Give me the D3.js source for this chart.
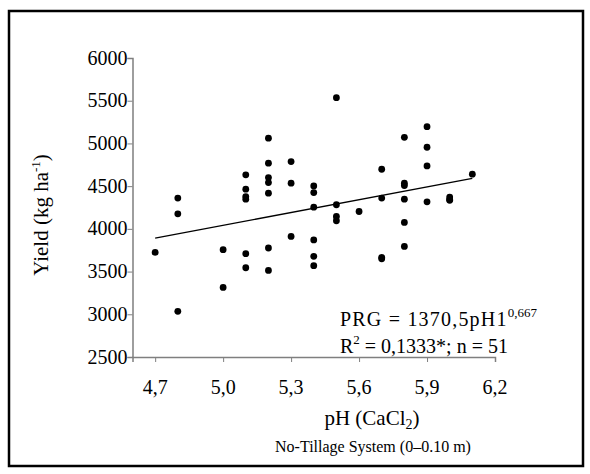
<!DOCTYPE html>
<html>
<head>
<meta charset="utf-8">
<script src="https://cdn.jsdelivr.net/npm/d3@7"></script>
<style>
  html, body { margin: 0; padding: 0; background: #fff; }
  svg { display: block; font-family: "Liberation Serif", "Times New Roman", serif; }
</style>
</head>
<body>
<svg id="chart" width="590" height="474"></svg>
<script>
// pH values and yields
const phValues = [
  4.7,
  4.8, 4.8, 4.8,
  5.0, 5.0,
  5.1, 5.1, 5.1, 5.1, 5.1, 5.1,
  5.2, 5.2, 5.2, 5.2, 5.2, 5.2, 5.2,
  5.3, 5.3, 5.3,
  5.4, 5.4, 5.4, 5.4, 5.4, 5.4,
  5.5, 5.5, 5.5, 5.5,
  5.6,
  5.7, 5.7, 5.7, 5.7,
  5.8, 5.8, 5.8, 5.8, 5.8, 5.8,
  5.9, 5.9, 5.9, 5.9,
  6.0, 6.0, 6.0,
  6.1
];
const yieldValues = [
  3724,
  4360, 4176, 3035,
  3756, 3315,
  4632, 4465, 4378, 4348, 3709, 3545,
  5061, 4769, 4600, 4542, 4418, 3776, 3514,
  4787, 4535, 3911,
  4503, 4425, 4254, 3870, 3678, 3569,
  5535, 4282, 4145, 4095,
  4203,
  4698, 4360, 3665, 3650,
  5072, 4535, 4507, 4348, 4075, 3794,
  5196, 4955, 4737, 4317,
  4372, 4345, 4335,
  4640
];
// fitted curve end points (PRG = 1370,5 pH^0,667)
const fitPh = [4.7, 6.1];
const fitYield = [3892, 4590];

const xTicks = [4.7, 5.0, 5.3, 5.6, 5.9, 6.2];
const yTicks = [2500, 3000, 3500, 4000, 4500, 5000, 5500, 6000];

const FONT = '"Liberation Serif", "Times New Roman", serif';
const fmtComma = d => d3.format(".1f")(d).replace(".", ",");

const svg = d3.select("#chart").attr("font-family", FONT);

// outer frame
svg.append("rect")
  .attr("x", 9).attr("y", 11).attr("width", 574).attr("height", 455)
  .attr("fill", "none").attr("stroke", "#000").attr("stroke-width", 2.5);

const x = d3.scaleLinear().domain([4.6, 6.2]).range([132.5, 495]);
const y = d3.scaleLinear().domain([2500, 6000]).range([357, 58]);

function label(tx, ty, anchor, size) {
  return svg.append("text")
    .attr("x", tx).attr("y", ty)
    .attr("text-anchor", anchor)
    .attr("font-family", FONT)
    .style("font-size", size + "px")
    .attr("fill", "#000");
}

// axes (gray lines, outside ticks)
const yAxis = svg.append("g")
  .attr("transform", `translate(${x(4.6)},0)`)
  .call(d3.axisLeft(y).tickValues(yTicks).tickSize(5).tickFormat(""));
const xAxis = svg.append("g")
  .attr("transform", `translate(0,${y(2500)})`)
  .call(d3.axisBottom(x).tickValues(xTicks).tickSize(5).tickFormat(""));
[yAxis, xAxis].forEach(a => {
  a.select(".domain").attr("stroke", "#7f7f7f").attr("stroke-width", 1.5);
  a.selectAll(".tick line").attr("stroke", "#7f7f7f").attr("stroke-width", 1);
});

yTicks.forEach(t => label(x(4.6) - 5, y(t) + 6.5, "end", 20).text(t));
xTicks.forEach(t => label(x(t), y(2500) + 37, "middle", 20).text(fmtComma(t)));

// axis titles
const xt = label(372, 425, "middle", 21);
xt.append("tspan").text("pH (CaCl");
xt.append("tspan").attr("font-size", "14px").attr("dy", 4).text("2");
xt.append("tspan").attr("dy", -4).text(")");

label(373, 452, "middle", 16).text("No-Tillage System (0\u20130.10 m)");

const yt = svg.append("text")
  .attr("transform", "translate(48,215) rotate(-90)")
  .attr("text-anchor", "middle")
  .attr("font-family", FONT).style("font-size", "21px");
yt.append("tspan").text("Yield (kg ha");
yt.append("tspan").attr("font-size", "13px").attr("dy", -8).text("-1");
yt.append("tspan").attr("dy", 8).text(")");

// fitted line
svg.append("path")
  .datum(fitPh.map((p, i) => [p, fitYield[i]]))
  .attr("fill", "none").attr("stroke", "#000").attr("stroke-width", 1.3)
  .attr("d", d3.line().x(d => x(d[0])).y(d => y(d[1])));

// points
svg.append("g").selectAll("circle")
  .data(phValues.map((p, i) => [p, yieldValues[i]]))
  .join("circle")
  .attr("cx", d => x(d[0])).attr("cy", d => y(d[1]))
  .attr("r", 3.4).attr("fill", "#000");

// equation
const eq1 = label(340, 326, "start", 20);
eq1.append("tspan").attr("letter-spacing", "1.2px").text("PRG = 1370,5pH1");
eq1.append("tspan").attr("font-size", "13px").attr("dy", -9).text("0,667");
const eq2 = label(340, 353, "start", 20);
eq2.append("tspan").text("R");
eq2.append("tspan").attr("font-size", "13px").attr("dy", -9).text("2");
eq2.append("tspan").attr("dy", 9).text(" = 0,1333*; n = 51");
</script>
</body>
</html>
